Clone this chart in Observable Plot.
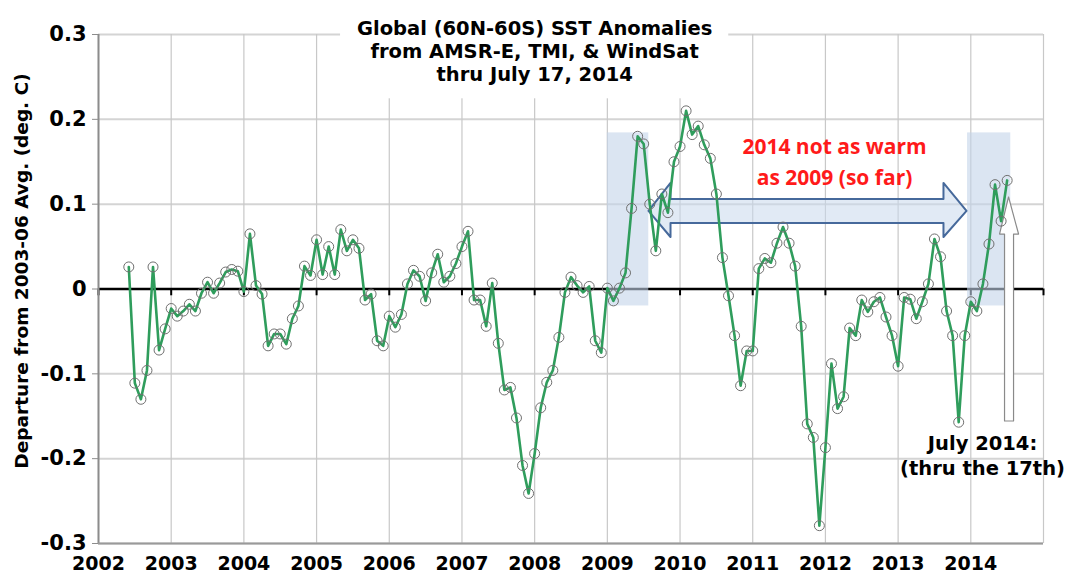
<!DOCTYPE html>
<html><head><meta charset="utf-8">
<script src="https://cdn.jsdelivr.net/npm/d3@7"></script>
<script src="https://cdn.jsdelivr.net/npm/@observablehq/plot@0.6"></script>
<style>body{margin:0;background:#fff} svg{display:block}</style>
</head><body><div id="chart"></div>
<script>
// Monthly SST anomalies (deg. C)
const sst2002 = [0.026, -0.111, -0.130, -0.096, 0.026, -0.072, -0.047]; // Jun-Dec
const sst2003 = [-0.023, -0.032, -0.026, -0.018, -0.026, -0.005, 0.008, -0.005, 0.007, 0.020, 0.023, 0.021];
const sst2004 = [-0.003, 0.065, 0.004, -0.006, -0.067, -0.053, -0.053, -0.065, -0.035, -0.020, 0.027, 0.016];
const sst2005 = [0.058, 0.017, 0.050, 0.017, 0.070, 0.045, 0.058, 0.048, -0.013, -0.006, -0.061, -0.067];
const sst2006 = [-0.032, -0.045, -0.030, 0.006, 0.022, 0.015, -0.014, 0.019, 0.041, 0.008, 0.015, 0.030];
const sst2007 = [0.050, 0.068, -0.013, -0.013, -0.044, 0.007, -0.064, -0.119, -0.116, -0.152, -0.208, -0.241];
const sst2008 = [-0.194, -0.140, -0.110, -0.096, -0.057, -0.004, 0.014, 0.004, -0.004, 0.003, -0.061, -0.075];
const sst2009 = [0.001, -0.014, 0.001, 0.019, 0.095, 0.180, 0.171, 0.100, 0.045, 0.112, 0.090, 0.150];
const sst2010 = [0.168, 0.210, 0.182, 0.192, 0.170, 0.154, 0.112, 0.037, -0.008, -0.055, -0.114, -0.073];
const sst2011 = [-0.073, 0.024, 0.036, 0.031, 0.054, 0.073, 0.054, 0.027, -0.044, -0.159, -0.175, -0.279];
const sst2012 = [-0.187, -0.088, -0.141, -0.127, -0.046, -0.055, -0.013, -0.027, -0.015, -0.010, -0.033, -0.055];
const sst2013 = [-0.091, -0.010, -0.012, -0.035, -0.015, 0.006, 0.059, 0.038, -0.026, -0.055, -0.157, -0.055];
const sst2014 = [-0.015, -0.026, 0.006, 0.053, 0.123, 0.080, 0.128]; // Jan-Jul

const yearBlocks = [
  [2002, 6, sst2002], [2003, 1, sst2003], [2004, 1, sst2004], [2005, 1, sst2005],
  [2006, 1, sst2006], [2007, 1, sst2007], [2008, 1, sst2008], [2009, 1, sst2009],
  [2010, 1, sst2010], [2011, 1, sst2011], [2012, 1, sst2012], [2013, 1, sst2013],
  [2014, 1, sst2014]
];

const yearLabels = [2002, 2003, 2004, 2005, 2006, 2007, 2008, 2009, 2010, 2011, 2012, 2013, 2014];
const gridYears = [2002, 2003, 2004, 2005, 2006, 2007, 2008, 2009, 2010, 2011, 2012, 2013, 2014, 2015];
const yTicks = [-0.3, -0.2, -0.1, 0, 0.1, 0.2, 0.3];

const titleLines = ["Global (60N-60S) SST Anomalies", "from AMSR-E, TMI, & WindSat", "thru July 17, 2014"];
const redLines = ["2014 not as warm", "as 2009 (so far)"];
const julyLines = ["July 2014:", "(thru the 17th)"];
const yLabel = "Departure from 2003-06 Avg. (deg. C)";

// annotation geometry (data coordinates)
const titleBox = [{x1: 2005.33, x2: 2010.67, y1: 0.2242, y2: 0.3224}];
const highlightBoxes = [
  {x1: 2009.00, x2: 2009.57, y1: -0.020, y2: 0.184},
  {x1: 2013.955, x2: 2014.55, y1: -0.020, y2: 0.184}
];
const doubleArrow = [
  [2009.566, 0.092], [2009.869, 0.125], [2009.869, 0.1061], [2013.624, 0.1061], [2013.624, 0.125],
  [2013.941, 0.092], [2013.624, 0.0613], [2013.624, 0.0778], [2009.869, 0.0778], [2009.869, 0.0613]
];
const upArrow = [
  [2014.464, -0.1556], [2014.588, -0.1556], [2014.588, 0.0648], [2014.657, 0.0648],
  [2014.519, 0.1085], [2014.395, 0.0648], [2014.464, 0.0648]
];

const series = yearBlocks.flatMap(([yr, m0, vals]) =>
  vals.map((v, i) => ({t: yr + (m0 - 1 + i) / 12, v})));

const FONT = "DejaVu Sans";
const titleData = titleLines.map((s, i) => ({s, x: 2008.0, y: [0.3071, 0.2800, 0.2529][i]}));
const redData = redLines.map((s, i) => ({s, x: 2012.125, y: [0.1668, 0.1300][i]}));
const julyData = julyLines.map((s, i) => ({s, x: 2014.161, y: [-0.1821, -0.2116][i]}));

const chart = Plot.plot({
  width: 1069,
  height: 584,
  marginLeft: 98,
  marginRight: 26,
  marginTop: 34,
  marginBottom: 41,
  style: {fontFamily: FONT, fontWeight: "bold", fontSize: "20px", background: "white", color: "#000"},
  x: {domain: [2002, 2015]},
  y: {domain: [-0.3, 0.3]},
  marks: [
    Plot.ruleY(yTicks, {stroke: "#d4d4d4", strokeWidth: 2}),
    Plot.ruleX(gridYears, {stroke: "#c8c8c8", strokeWidth: 1.2}),
    Plot.rect(titleBox, {x1: "x1", x2: "x2", y1: "y1", y2: "y2", fill: "white"}),
    Plot.ruleY([0], {stroke: "black", strokeWidth: 2.5}),
    Plot.ruleX(gridYears, {y1: 0, y2: -0.008, stroke: "black", strokeWidth: 2}),
    Plot.rect(highlightBoxes, {x1: "x1", x2: "x2", y1: "y1", y2: "y2", fill: "#c3d4ea", fillOpacity: 0.6}),
    Plot.line(doubleArrow, {x: d => d[0], y: d => d[1], curve: "linear-closed", fill: "#c9d8ec", fillOpacity: 0.55, stroke: "#46699b", strokeWidth: 2}),
    Plot.line(upArrow, {x: d => d[0], y: d => d[1], curve: "linear-closed", fill: "white", stroke: "#8a8a8a", strokeWidth: 1.2}),
    Plot.line(series, {x: "t", y: "v", stroke: "#2f9d5c", strokeWidth: 2.6}),
    Plot.dot(series, {x: "t", y: "v", r: 5, stroke: "#707070", strokeWidth: 1, fill: "none"}),
    Plot.ruleX([2002], {stroke: "#8c8c8c", strokeWidth: 2}),
    Plot.ruleY([-0.3], {stroke: "#9a9a9a", strokeWidth: 2}),
    Plot.axisY({ticks: yTicks, tickFormat: d => d === 0 ? "0" : d.toFixed(1), tickSize: 6, tickPadding: 6,
      stroke: "#8c8c8c", label: null, fontSize: 21, fontWeight: "bold", fontFamily: FONT}),
    Plot.axisX({ticks: yearLabels, tickFormat: d => String(d), tickSize: 0, tickPadding: 13,
      label: null, fontSize: 19, fontWeight: "bold", fontFamily: FONT}),
    Plot.text([yLabel], {text: d => d, frameAnchor: "left", textAnchor: "middle", rotate: -90, dx: -76, dy: -18,
      fontSize: 18.5, fontWeight: "bold", fontFamily: FONT, fill: "black"}),
    Plot.text(titleData, {x: "x", y: "y", text: "s", fontSize: 19.5, fontWeight: "bold", fontFamily: FONT, fill: "black"}),
    Plot.text(redData, {x: "x", y: "y", text: "s", fontSize: 21, fontWeight: "bold", fontFamily: "Open Sans", fill: "#ff1a1a"}),
    Plot.text(julyData, {x: "x", y: "y", text: "s", fontSize: 19.5, fontWeight: "bold", fontFamily: FONT, fill: "black"})
  ]
});
document.getElementById("chart").appendChild(chart);
</script>
</body></html>
